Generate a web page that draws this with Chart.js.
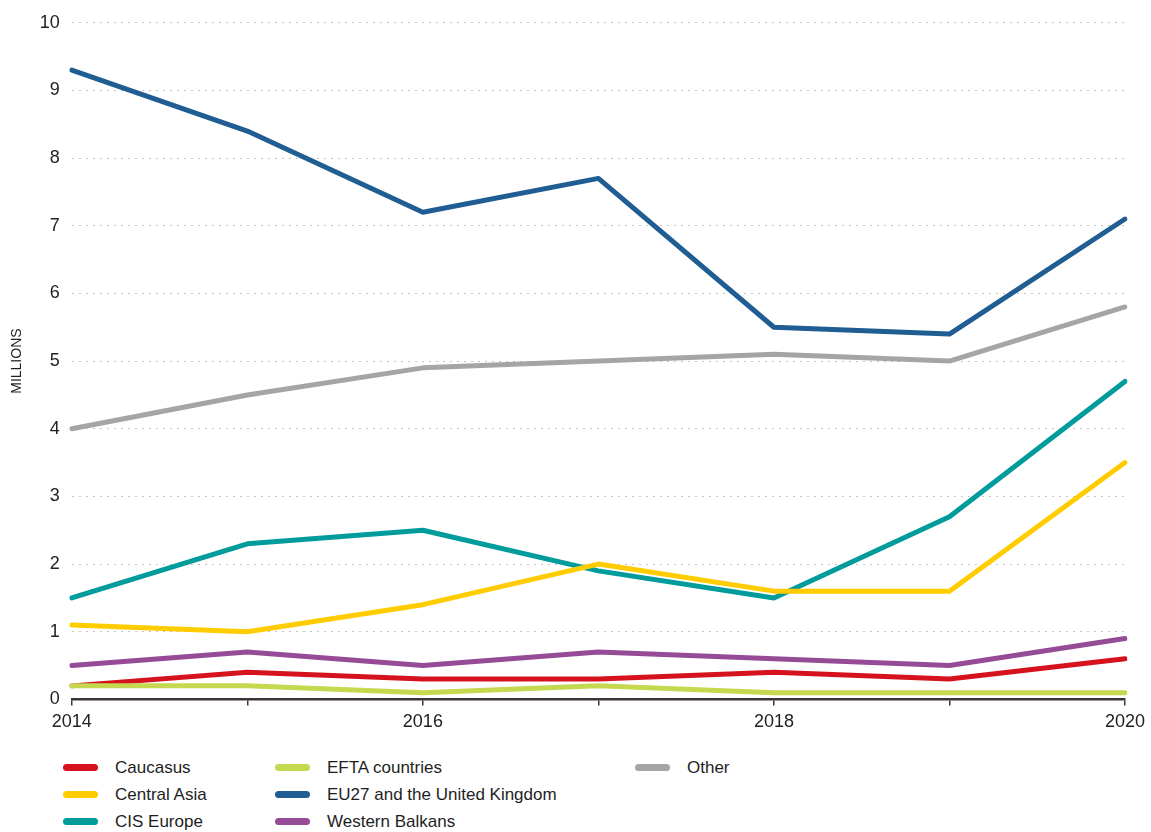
<!DOCTYPE html>
<html>
<head>
<meta charset="utf-8">
<script src="https://cdn.jsdelivr.net/npm/chart.js@4/dist/chart.umd.min.js"></script>
<style>
    body { margin: 0; background: #fff; font-family: "Liberation Sans", Arial, sans-serif; }
    #wrap { position: relative; width: 1151px; height: 832px; }
    #chart-box { position: absolute; left: 0; top: 0; width: 1151px; height: 739px; }
    #legend {
        position: absolute; left: 63px; top: 754px;
        display: grid; grid-auto-flow: column;
        grid-template-rows: repeat(3, 27px);
        grid-template-columns: 212px 360px 200px;
        font-size: 17px; color: #1e1e1e;
    }
    .item { display: flex; align-items: center; }
    .swatch { width: 35px; height: 7px; border-radius: 4px; margin-right: 17px; }
</style>
</head>
<body>
<div id="wrap">
    <div id="chart-box"><canvas id="flows-chart"></canvas></div>
    <div id="legend"></div>
</div>
<script>
    const years = ["2014", "2015", "2016", "2017", "2018", "2019", "2020"];

    const caucasus = [0.2, 0.4, 0.3, 0.3, 0.4, 0.3, 0.6];
    const centralAsia = [1.1, 1.0, 1.4, 2.0, 1.6, 1.6, 3.5];
    const cisEurope = [1.5, 2.3, 2.5, 1.9, 1.5, 2.7, 4.7];
    const efta = [0.2, 0.2, 0.1, 0.2, 0.1, 0.1, 0.1];
    const eu27uk = [9.3, 8.4, 7.2, 7.7, 5.5, 5.4, 7.1];
    const westernBalkans = [0.5, 0.7, 0.5, 0.7, 0.6, 0.5, 0.9];
    const other = [4.0, 4.5, 4.9, 5.0, 5.1, 5.0, 5.8];

    const series = [
        { label: "Caucasus", data: caucasus, color: "#d5121e" },
        { label: "Central Asia", data: centralAsia, color: "#ffcc00" },
        { label: "CIS Europe", data: cisEurope, color: "#009b9b" },
        { label: "EFTA countries", data: efta, color: "#c6d84f" },
        { label: "EU27 and the United Kingdom", data: eu27uk, color: "#1f5d93" },
        { label: "Western Balkans", data: westernBalkans, color: "#954b96" },
        { label: "Other", data: other, color: "#a5a5a5" }
    ];

    // later datasets paint on top; keep the small series above the big ones
    const drawOrder = ["Other", "EU27 and the United Kingdom", "CIS Europe", "Central Asia",
                       "Western Balkans", "Caucasus", "EFTA countries"];

    const datasets = series.map(s => ({
        label: s.label,
        data: s.data,
        borderColor: s.color,
        backgroundColor: s.color,
        borderWidth: 5,
        borderCapStyle: "round",
        borderJoinStyle: "round",
        pointRadius: 0,
        pointHoverRadius: 0,
        tension: 0,
        order: drawOrder.length - drawOrder.indexOf(s.label)
    }));

    const tickFont = { family: "'Liberation Sans', Arial, sans-serif", size: 18 };

    new Chart(document.getElementById("flows-chart"), {
        type: "line",
        data: { labels: years, datasets: datasets },
        options: {
            responsive: true,
            maintainAspectRatio: false,
            animation: false,
            layout: { padding: { top: 19, right: 19, left: 9, bottom: 0 } },
            plugins: {
                legend: { display: false },
                tooltip: { enabled: false }
            },
            scales: {
                x: {
                    offset: false,
                    grid: {
                        drawOnChartArea: false,
                        drawTicks: true,
                        tickLength: 6,
                        color: "#3a3433",
                        lineWidth: 1.5
                    },
                    border: { color: "#3a3433", width: 2.5 },
                    ticks: {
                        color: "#222",
                        font: tickFont,
                        padding: 6,
                        maxRotation: 0,
                        autoSkip: false,
                        callback: function (value, index) {
                            return index % 2 === 0 ? years[index] : "";
                        }
                    }
                },
                y: {
                    min: 0,
                    max: 10,
                    grid: {
                        drawTicks: false,
                        color: "#c4c4c4",
                        lineWidth: 1
                    },
                    border: { display: false, dash: [2, 5] },
                    ticks: {
                        stepSize: 1,
                        color: "#222",
                        font: tickFont,
                        padding: 12
                    },
                    title: {
                        display: true,
                        text: "MILLIONS",
                        color: "#1e1e1e",
                        font: { family: "'Liberation Sans Narrow', 'Liberation Sans', Arial, sans-serif", size: 14 },
                        padding: { top: 0, bottom: 2 }
                    }
                }
            }
        }
    });

    // Legend laid out in columns: three rows per column
    const legendBox = document.getElementById("legend");
    series.forEach(s => {
        const item = document.createElement("div");
        item.className = "item";
        item.innerHTML = `<span class="swatch" style="background:${s.color}"></span><span>${s.label}</span>`;
        legendBox.appendChild(item);
    });
</script>
</body>
</html>
